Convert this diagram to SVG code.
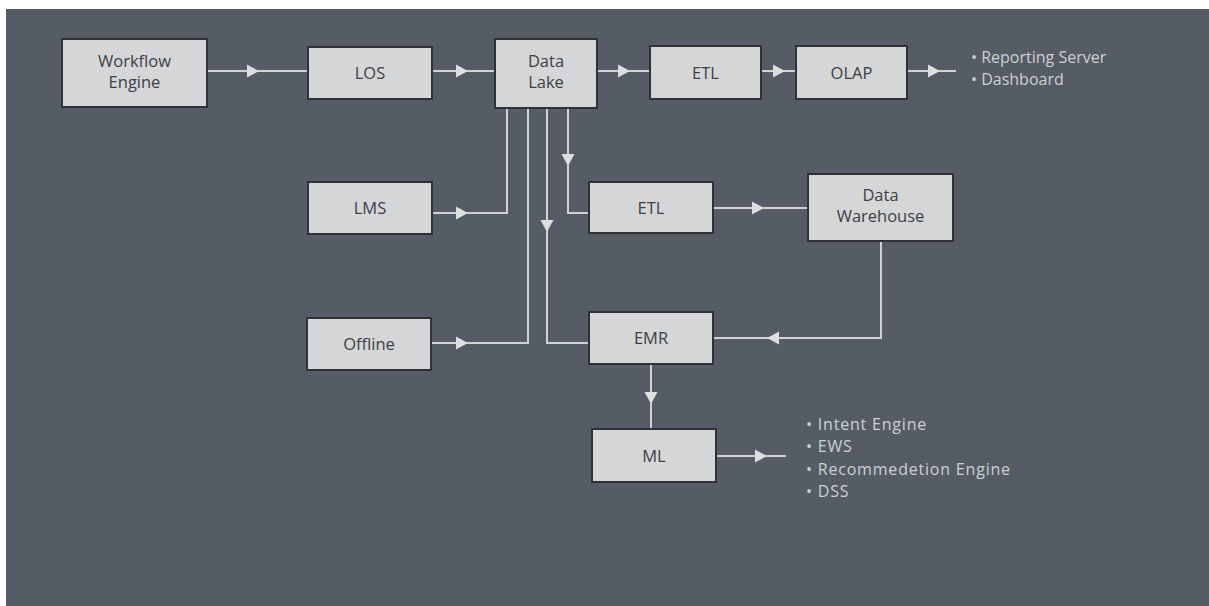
<svg xmlns="http://www.w3.org/2000/svg" width="1209" height="606" viewBox="0 0 1209 606">
<style>
.bg{fill:#555c65}
.node rect{fill:#d5d6d8;stroke:#2f3237;stroke-width:2}
.node text{font-family:"Open Sans","Liberation Sans",sans-serif;font-size:16.5px;fill:#3d4045;text-anchor:middle}
.conn path{fill:none;stroke:#cfd1d4;stroke-width:2}
.ah{fill:#dcdee0}
.list text{font-family:"Open Sans","Liberation Sans",sans-serif;font-size:16px;fill:#cdd0d3}
#ml-list text{letter-spacing:0.8px}
</style>
<defs>
<polygon id="ah" class="ah" points="-12,-6.5 0,0 -12,6.5"/>
</defs>
<rect class="bg" x="6" y="9" width="1203" height="597"/>
<g id="connectors" class="conn">
<path d="M207 71H308"/>
<path d="M432 71H495"/>
<path d="M597 71H650"/>
<path d="M761 71H796"/>
<path d="M907 71H956"/>
<path d="M432 213H507V108"/>
<path d="M568 108V213H589"/>
<path d="M547 108V343H589"/>
<path d="M431 343H528V108"/>
<path d="M713 208H808"/>
<path d="M881 241V338H713"/>
<path d="M651 364V429"/>
<path d="M716 456H786"/>
<use href="#ah" x="259" y="71"/>
<use href="#ah" x="468" y="71"/>
<use href="#ah" x="630" y="71"/>
<use href="#ah" x="785" y="71"/>
<use href="#ah" x="940" y="71"/>
<use href="#ah" x="468" y="213"/>
<use href="#ah" transform="translate(568 166) rotate(90)"/>
<use href="#ah" transform="translate(547 232) rotate(90)"/>
<use href="#ah" x="468" y="343"/>
<use href="#ah" x="764" y="208"/>
<use href="#ah" transform="translate(767 338) rotate(180)"/>
<use href="#ah" transform="translate(651 404) rotate(90)"/>
<use href="#ah" x="767" y="456"/>
</g>
<g id="workflow-engine" class="node"><rect x="62" y="39" width="145" height="68"/><text x="134.5" y="67">Workflow</text><text x="134.5" y="88">Engine</text></g>
<g id="los" class="node"><rect x="308" y="47" width="124" height="52"/><text x="370" y="79">LOS</text></g>
<g id="data-lake" class="node"><rect x="495" y="39" width="102" height="69"/><text x="546" y="67">Data</text><text x="546" y="88">Lake</text></g>
<g id="etl-top" class="node"><rect x="650" y="46" width="111" height="53"/><text x="705.5" y="79">ETL</text></g>
<g id="olap" class="node"><rect x="796" y="46" width="111" height="53"/><text x="851.5" y="79">OLAP</text></g>
<g id="lms" class="node"><rect x="308" y="182" width="124" height="52"/><text x="370" y="214">LMS</text></g>
<g id="etl-mid" class="node"><rect x="589" y="182" width="124" height="51"/><text x="651" y="214">ETL</text></g>
<g id="data-warehouse" class="node"><rect x="808" y="174" width="145" height="67"/><text x="880.5" y="201">Data</text><text x="880.5" y="222">Warehouse</text></g>
<g id="offline" class="node"><rect x="307" y="318" width="124" height="52"/><text x="369" y="350">Offline</text></g>
<g id="emr" class="node"><rect x="589" y="312" width="124" height="52"/><text x="651" y="344">EMR</text></g>
<g id="ml" class="node"><rect x="592" y="429" width="124" height="53"/><text x="654" y="462">ML</text></g>
<g id="reporting-list" class="list"><text x="971" y="63">• Reporting Server</text><text x="971" y="85">• Dashboard</text></g>
<g id="ml-list" class="list"><text x="806" y="430">• Intent Engine</text><text x="806" y="452">• EWS</text><text x="806" y="475">• Recommedetion Engine</text><text x="806" y="497">• DSS</text></g>
</svg>
